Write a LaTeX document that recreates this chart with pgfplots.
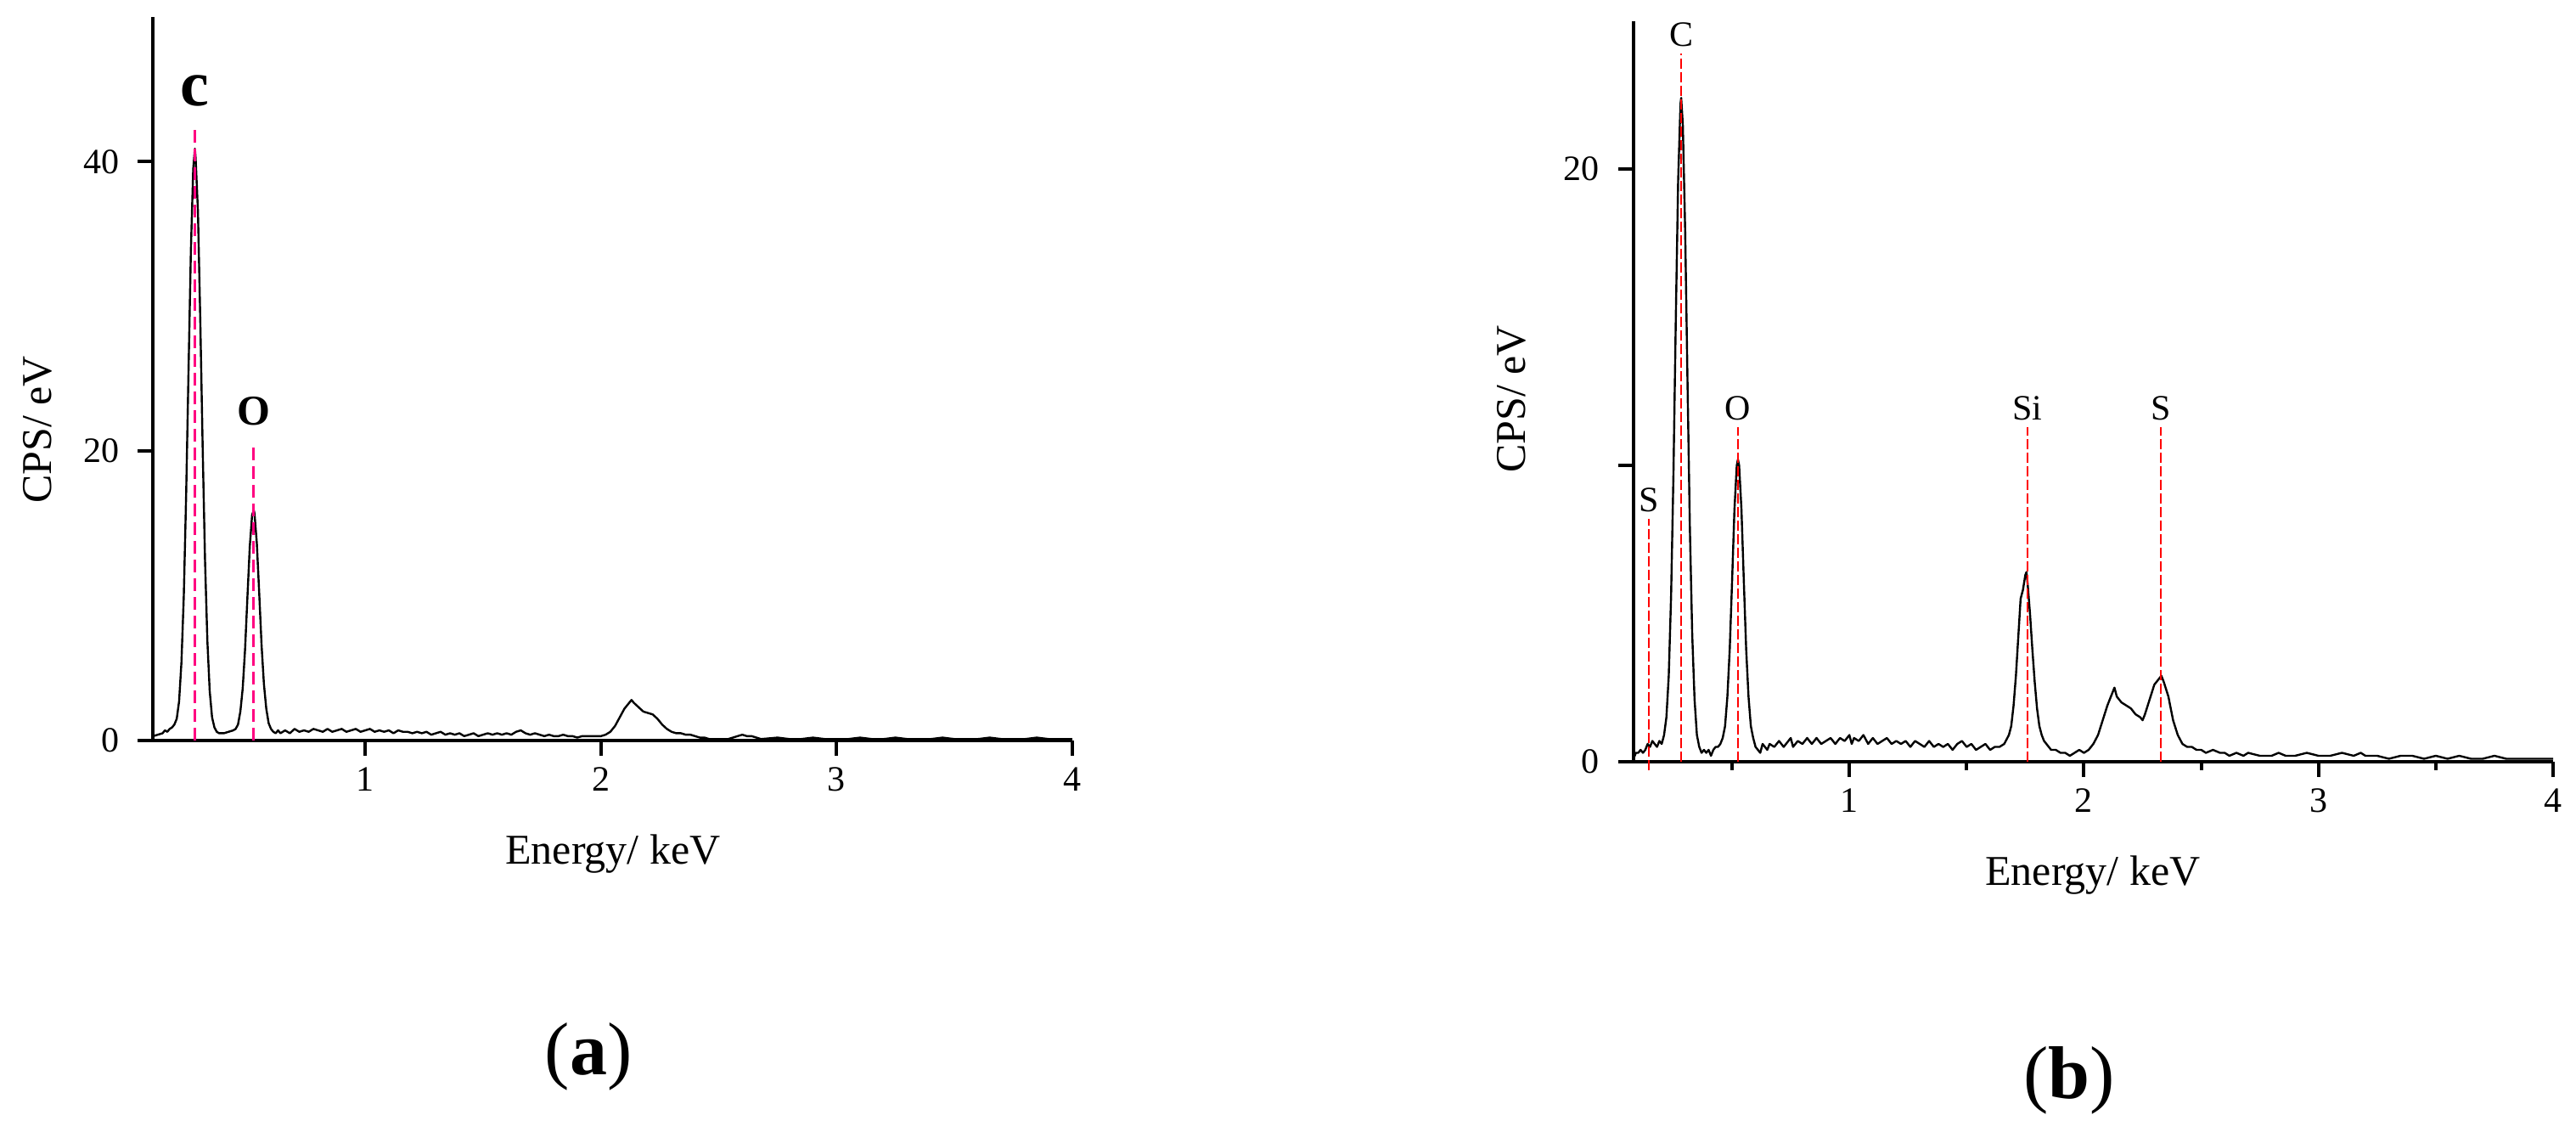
\documentclass[border=0pt]{standalone}
\usepackage{fontspec}
\setmainfont{Liberation Serif}
\usepackage{pgfplots}
\pgfplotsset{compat=1.18}

\definecolor{peakpink}{RGB}{255,0,128}
\definecolor{peakred}{RGB}{255,0,0}

\pgfplotsset{
  eds/.style={
    scale only axis, clip=false,
    axis lines*=left,
    axis line style={line width=1pt},
    tick style={line width=1pt, black},
    tick align=outside,
    major tick length=4.5pt,
    ymin=0, xmax=4,
    xtick={1,2,3,4},
    /pgf/number format/assume math mode=true,
    tick label style={font=\fontsize{10.5}{12}\selectfont},
    yticklabel style={xshift=-2pt},
  },
  spec/.style={black, line width=0.6pt, line join=round, mark=none},
}

\begin{document}
\begin{tikzpicture}
\useasboundingbox (0,0) rectangle (758.5pt,333.25pt);

% ---------- (a) ----------
\begin{axis}[eds,
  at={(45.1pt,115.25pt)}, anchor=south west,
  width=270.6pt, height=213pt,
  xmin=0.1, ymax=50,
  ytick={0,20,40},
]
\addplot[spec] table {
x y
0.10 0.3
0.12 0.4
0.14 0.5
0.15 0.7
0.16 0.6
0.17 0.8
0.18 0.9
0.19 1.1
0.20 1.5
0.21 2.7
0.22 5.4
0.23 10.0
0.24 17.0
0.25 25.5
0.26 33.8
0.27 39.5
0.277 40.9
0.28 40.3
0.29 36.6
0.30 29.0
0.31 20.3
0.32 12.5
0.33 6.9
0.34 3.4
0.35 1.6
0.36 0.9
0.37 0.6
0.38 0.5
0.40 0.5
0.42 0.6
0.44 0.7
0.45 0.8
0.46 1.1
0.47 2.0
0.48 3.6
0.49 6.3
0.50 9.9
0.51 13.4
0.52 15.6
0.527 15.9
0.53 15.7
0.54 13.6
0.55 10.2
0.56 6.6
0.57 3.9
0.58 2.2
0.59 1.2
0.60 0.8
0.61 0.6
0.62 0.5
0.63 0.7
0.64 0.5
0.66 0.7
0.68 0.5
0.70 0.8
0.72 0.6
0.74 0.7
0.76 0.6
0.78 0.8
0.80 0.7
0.82 0.6
0.84 0.8
0.86 0.6
0.88 0.7
0.90 0.8
0.92 0.6
0.94 0.7
0.96 0.8
0.98 0.6
1.00 0.7
1.02 0.8
1.04 0.6
1.06 0.7
1.08 0.6
1.10 0.7
1.12 0.5
1.14 0.7
1.16 0.6
1.18 0.6
1.20 0.5
1.22 0.6
1.24 0.5
1.26 0.6
1.28 0.4
1.30 0.5
1.32 0.6
1.34 0.4
1.36 0.5
1.38 0.4
1.40 0.5
1.42 0.3
1.44 0.4
1.46 0.5
1.48 0.3
1.50 0.4
1.52 0.5
1.54 0.4
1.56 0.5
1.58 0.4
1.60 0.5
1.62 0.4
1.64 0.6
1.66 0.7
1.68 0.5
1.70 0.4
1.72 0.5
1.74 0.4
1.76 0.3
1.78 0.4
1.80 0.3
1.82 0.3
1.84 0.4
1.86 0.3
1.88 0.3
1.90 0.2
1.92 0.3
1.94 0.3
1.96 0.3
1.98 0.3
2.00 0.3
2.02 0.4
2.04 0.6
2.06 1.0
2.08 1.6
2.10 2.2
2.12 2.6
2.13 2.8
2.14 2.6
2.16 2.3
2.18 2.0
2.20 1.9
2.22 1.8
2.24 1.5
2.26 1.1
2.28 0.8
2.30 0.6
2.32 0.5
2.34 0.5
2.36 0.4
2.38 0.4
2.40 0.3
2.42 0.2
2.44 0.2
2.46 0.1
2.50 0.1
2.54 0.1
2.56 0.2
2.58 0.3
2.60 0.4
2.62 0.3
2.64 0.3
2.66 0.2
2.68 0.1
2.75 0.2
2.80 0.1
2.85 0.1
2.90 0.2
2.95 0.1
3.00 0.1
3.05 0.1
3.10 0.2
3.15 0.1
3.20 0.1
3.25 0.2
3.30 0.1
3.40 0.1
3.45 0.2
3.50 0.1
3.60 0.1
3.65 0.2
3.70 0.1
3.80 0.1
3.85 0.2
3.90 0.1
4.00 0.1
};
\addplot[peakpink, line width=0.75pt, dash pattern=on 3.75pt off 1.75pt] coordinates {(0.277,0) (0.277,42.6)};
\addplot[peakpink, line width=0.75pt, dash pattern=on 3.75pt off 1.75pt] coordinates {(0.527,0) (0.527,20.5)};
\node[anchor=base, font=\fontsize{19}{21}\selectfont\bfseries, inner sep=0pt] at (axis cs:0.277,42.6) [yshift=5.5pt] {c};
\node[anchor=base, font=\fontsize{12.5}{14}\selectfont\bfseries, inner sep=0pt] at (axis cs:0.527,20.5) [yshift=5.5pt] {O};
\end{axis}

% ---------- (b) ----------
\begin{axis}[eds,
  at={(481pt,109pt)}, anchor=south west,
  width=270.75pt, height=218.1pt,
  xmin=0.08, ymax=25,
  ytick={0,10,20}, yticklabels={0,,20},
  minor xtick={0.5,1.5,2.5,3.5},
  minor tick length=2.5pt,
]
\addplot[spec] table {
x y
0.08 0.1
0.09 0.3
0.10 0.3
0.11 0.4
0.12 0.3
0.13 0.4
0.14 0.6
0.15 0.5
0.16 0.7
0.17 0.6
0.18 0.5
0.19 0.7
0.20 0.6
0.21 0.9
0.22 1.5
0.23 2.9
0.24 5.6
0.25 9.7
0.26 14.9
0.27 19.6
0.28 22.2
0.283 22.4
0.29 21.5
0.30 17.9
0.31 12.8
0.32 7.9
0.33 4.3
0.34 2.1
0.35 0.9
0.36 0.5
0.37 0.3
0.38 0.4
0.39 0.3
0.40 0.4
0.41 0.2
0.42 0.4
0.43 0.5
0.44 0.5
0.45 0.6
0.46 0.8
0.47 1.2
0.48 2.2
0.49 3.8
0.50 6.1
0.51 8.5
0.52 10.0
0.525 10.2
0.53 10.0
0.54 8.5
0.55 6.1
0.56 3.8
0.57 2.2
0.58 1.2
0.59 0.8
0.60 0.5
0.61 0.4
0.62 0.3
0.63 0.6
0.64 0.5
0.65 0.4
0.66 0.6
0.68 0.5
0.70 0.7
0.72 0.5
0.74 0.7
0.75 0.8
0.76 0.5
0.78 0.7
0.80 0.6
0.82 0.8
0.84 0.6
0.86 0.8
0.88 0.6
0.90 0.7
0.92 0.8
0.94 0.6
0.96 0.8
0.98 0.7
1.00 0.9
1.01 0.6
1.02 0.8
1.04 0.7
1.06 0.9
1.08 0.6
1.10 0.8
1.12 0.6
1.14 0.7
1.16 0.8
1.18 0.6
1.20 0.7
1.22 0.6
1.24 0.7
1.26 0.5
1.28 0.7
1.30 0.6
1.32 0.5
1.34 0.7
1.36 0.5
1.38 0.6
1.40 0.5
1.42 0.6
1.44 0.4
1.46 0.6
1.48 0.7
1.50 0.5
1.52 0.6
1.54 0.4
1.56 0.5
1.58 0.6
1.60 0.4
1.62 0.5
1.64 0.5
1.66 0.6
1.68 0.9
1.69 1.2
1.70 1.9
1.71 2.9
1.72 4.2
1.73 5.5
1.74 5.8
1.75 6.3
1.755 6.4
1.76 6.0
1.77 5.0
1.78 3.8
1.79 2.7
1.80 1.8
1.81 1.2
1.82 0.9
1.83 0.7
1.84 0.6
1.86 0.4
1.88 0.4
1.90 0.3
1.92 0.3
1.94 0.2
1.96 0.3
1.98 0.4
2.00 0.3
2.02 0.4
2.04 0.6
2.06 0.9
2.08 1.4
2.10 1.9
2.12 2.3
2.13 2.5
2.14 2.2
2.15 2.1
2.16 2.0
2.18 1.9
2.20 1.8
2.22 1.6
2.24 1.5
2.25 1.4
2.26 1.6
2.28 2.1
2.30 2.6
2.32 2.8
2.33 2.9
2.34 2.7
2.36 2.2
2.38 1.4
2.40 0.9
2.42 0.6
2.44 0.5
2.46 0.5
2.48 0.4
2.50 0.4
2.52 0.3
2.55 0.4
2.58 0.3
2.60 0.3
2.62 0.2
2.65 0.3
2.68 0.2
2.70 0.3
2.75 0.2
2.80 0.2
2.83 0.3
2.86 0.2
2.90 0.2
2.95 0.3
3.00 0.2
3.05 0.2
3.10 0.3
3.15 0.2
3.18 0.3
3.20 0.2
3.25 0.2
3.30 0.1
3.35 0.2
3.40 0.2
3.45 0.1
3.50 0.2
3.55 0.1
3.60 0.2
3.65 0.1
3.70 0.1
3.75 0.2
3.80 0.1
3.85 0.1
3.90 0.1
3.95 0.1
4.00 0.1
};
\addplot[peakred, line width=0.45pt, dash pattern=on 3pt off 1pt] coordinates {(0.145,-0.3) (0.145,8.2)};
\addplot[peakred, line width=0.45pt, dash pattern=on 3pt off 1pt] coordinates {(0.283,0) (0.283,23.9)};
\addplot[peakred, line width=0.45pt, dash pattern=on 3pt off 1pt] coordinates {(0.525,0) (0.525,11.3)};
\addplot[peakred, line width=0.45pt, dash pattern=on 3pt off 1pt] coordinates {(1.758,0) (1.758,11.3)};
\addplot[peakred, line width=0.45pt, dash pattern=on 3pt off 1pt] coordinates {(2.327,0) (2.327,11.3)};
\node[anchor=base, font=\fontsize{10.5}{12}\selectfont, inner sep=0pt] at (axis cs:0.145,8.2) [yshift=2pt] {S};
\node[anchor=base, font=\fontsize{10.5}{12}\selectfont, inner sep=0pt] at (axis cs:0.283,23.9) [yshift=2pt] {C};
\node[anchor=base, font=\fontsize{10.5}{12}\selectfont, inner sep=0pt] at (axis cs:0.525,11.3) [yshift=2pt] {O};
\node[anchor=base, font=\fontsize{10.5}{12}\selectfont, inner sep=0pt] at (axis cs:1.758,11.3) [yshift=2pt] {Si};
\node[anchor=base, font=\fontsize{10.5}{12}\selectfont, inner sep=0pt] at (axis cs:2.327,11.3) [yshift=2pt] {S};
\end{axis}

% ---------- labels ----------
\node[rotate=90, font=\fontsize{12.5}{14}\selectfont] at (11pt,206.75pt) {CPS/ eV};
\node[rotate=90, font=\fontsize{12.5}{14}\selectfont] at (445pt,215.75pt) {CPS/ eV};
\node[anchor=base, font=\fontsize{12.5}{14}\selectfont, inner sep=0pt] at (180.5pt,78.75pt) {Energy/ keV};
\node[anchor=base, font=\fontsize{12.5}{14}\selectfont, inner sep=0pt] at (616.25pt,72.5pt) {Energy/ keV};
\node[font=\fontsize{22}{24}\selectfont] at (173.25pt,22.25pt) {(\textbf{a})};
\node[font=\fontsize{22}{24}\selectfont] at (609.25pt,15.25pt) {(\textbf{b})};
\end{tikzpicture}
\end{document}
